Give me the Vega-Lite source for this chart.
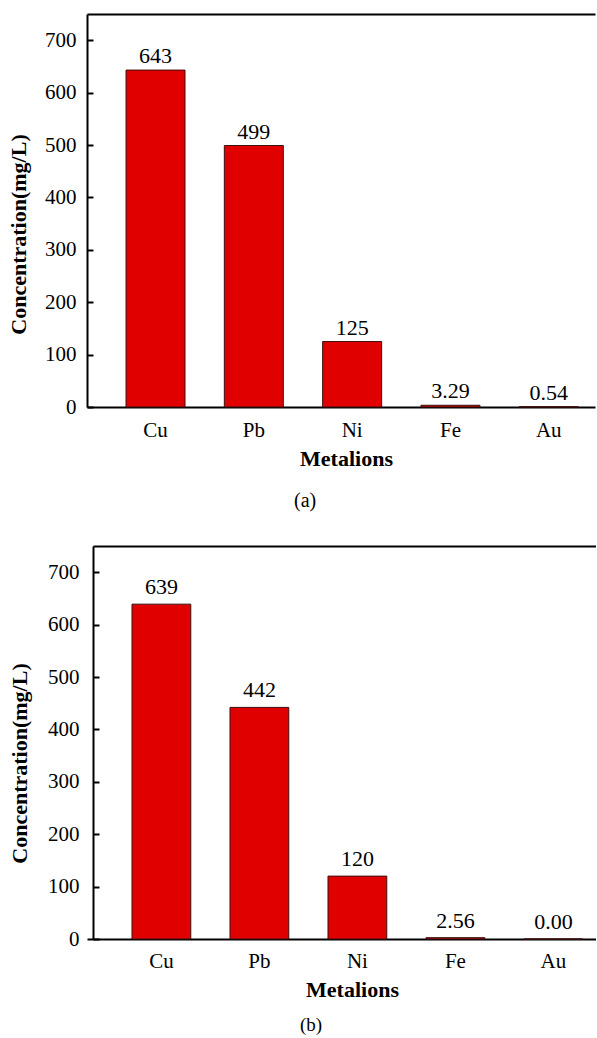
{
  "$schema": "https://vega.github.io/schema/vega-lite/v6.json",
  "padding": {"top": 14, "left": 7, "right": 0, "bottom": 0},
  "background": "white",
  "config": {
    "font": "Liberation Serif",
    "view": {"stroke": null},
    "axis": {"grid": false, "domainColor": "black", "domainWidth": 2, "labelColor": "black", "titleColor": "black", "labelFont": "Liberation Serif", "titleFont": "Liberation Serif"}
  },
  "datasets": {
    "a": [
      {"metal": "Cu", "value": 643, "label": "643"},
      {"metal": "Pb", "value": 499, "label": "499"},
      {"metal": "Ni", "value": 125, "label": "125"},
      {"metal": "Fe", "value": 3.29, "label": "3.29"},
      {"metal": "Au", "value": 0.54, "label": "0.54"}
    ],
    "b": [
      {"metal": "Cu", "value": 639, "label": "639"},
      {"metal": "Pb", "value": 442, "label": "442"},
      {"metal": "Ni", "value": 120, "label": "120"},
      {"metal": "Fe", "value": 2.56, "label": "2.56"},
      {"metal": "Au", "value": 0.0, "label": "0.00"}
    ]
  },
  "concat": [
    {
      "width": 508,
      "height": 393,
      "data": {"name": "a"},
      "title": {"text": "(a)", "orient": "bottom", "anchor": "start", "frame": "group", "dx": 207, "offset": 22, "font": "Liberation Serif", "fontSize": 20, "fontWeight": "normal", "color": "black"},
      "encoding": {
        "y": {
          "field": "value", "type": "quantitative",
          "scale": {"domain": [0, 750], "nice": false, "zero": true},
          "axis": {"title": "Concentration(mg/L)", "titleFontSize": 22, "titleFontWeight": "bold", "titleX": -57, "titleY": 220, "titleAngle": 270, "titleBaseline": "bottom", "values": [0, 100, 200, 300, 400, 500, 600, 700], "tickSize": -6, "tickWidth": 2, "tickColor": "black", "labelFontSize": 21, "labelPadding": 17}
        }
      },
      "layer": [
        {
          "mark": {"type": "bar", "color": "#e10000", "stroke": "#3a1010", "strokeWidth": 1},
          "encoding": {
            "x": {
              "field": "metal", "type": "nominal", "sort": null,
              "scale": {"paddingInner": 0.4, "paddingOuter": 0.2835, "align": 0.7},
              "axis": {"orient": "bottom", "title": "Metalions", "titleFontSize": 22, "titleFontWeight": "bold", "titleX": 259, "titlePadding": 8, "ticks": false, "labelAngle": 0, "labelFontSize": 21, "labelPadding": 12}
            }
          }
        },
        {
          "mark": {"type": "text", "baseline": "alphabetic", "dy": -7, "fontSize": 22, "color": "black", "font": "Liberation Serif"},
          "encoding": {
            "x": {
              "field": "metal", "type": "nominal", "sort": null,
              "axis": {"orient": "top", "labels": false, "ticks": false, "title": null}
            },
            "text": {"field": "label"}
          }
        }
      ]
    },
    {
      "width": 509,
      "height": 393,
      "data": {"name": "b"},
      "title": {"text": "(b)", "orient": "bottom", "anchor": "start", "frame": "group", "dx": 213, "offset": 16, "font": "Liberation Serif", "fontSize": 19, "fontWeight": "normal", "color": "black"},
      "encoding": {
        "y": {
          "field": "value", "type": "quantitative",
          "scale": {"domain": [0, 750], "nice": false, "zero": true},
          "axis": {"offset": -6, "title": "Concentration(mg/L)", "titleFontSize": 22, "titleFontWeight": "bold", "titleX": -62, "titleY": 217, "titleAngle": 270, "titleBaseline": "bottom", "values": [0, 100, 200, 300, 400, 500, 600, 700], "tickSize": -6, "tickWidth": 2, "tickColor": "black", "labelFontSize": 21, "labelPadding": 20}
        }
      },
      "layer": [
        {
          "mark": {"type": "bar", "color": "#e10000", "stroke": "#3a1010", "strokeWidth": 1},
          "encoding": {
            "x": {
              "field": "metal", "type": "nominal", "sort": null,
              "scale": {"paddingInner": 0.4, "paddingOuter": 0.297, "align": 0.773},
              "axis": {"orient": "bottom", "title": "Metalions", "titleFontSize": 22, "titleFontWeight": "bold", "titleX": 265, "titlePadding": 8, "ticks": false, "labelAngle": 0, "labelFontSize": 21, "labelPadding": 11}
            }
          }
        },
        {
          "mark": {"type": "text", "baseline": "alphabetic", "dy": -10, "fontSize": 22, "color": "black", "font": "Liberation Serif"},
          "encoding": {
            "x": {
              "field": "metal", "type": "nominal", "sort": null,
              "axis": {"orient": "top", "labels": false, "ticks": false, "title": null, "offset": 6, "translate": 6.5}
            },
            "text": {"field": "label"}
          }
        }
      ]
    }
  ],
  "columns": 1,
  "spacing": 29
}
